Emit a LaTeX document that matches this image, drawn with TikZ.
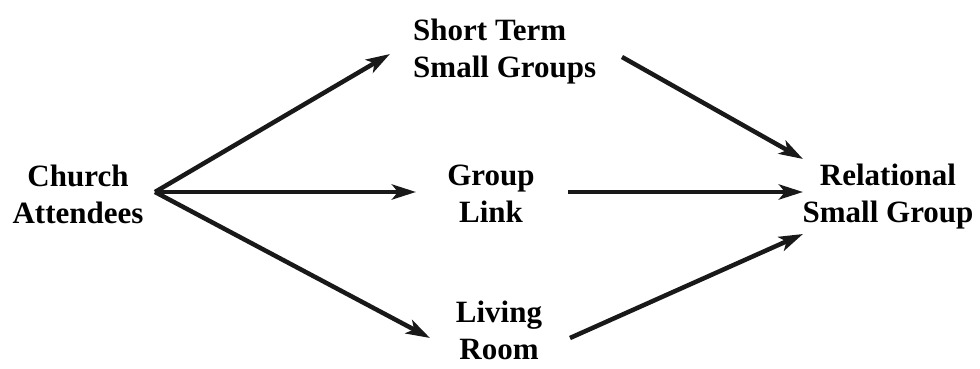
\documentclass[tikz,border=0pt]{standalone}
\usepackage{fontspec}
\setmainfont{Liberation Serif}
\usetikzlibrary{arrows.meta}
\begin{document}
\begin{tikzpicture}[x=1pt,y=-1pt,
  lbl/.style={align=center,inner sep=0pt,font=\fontsize{31}{37}\selectfont\bfseries},
  arr/.style={line width=4.5pt,-{Stealth[length=24pt,width=15pt,inset=6pt]},draw=black!90}]
\useasboundingbox[fill=white] (0,0) rectangle (980,369);
\node[lbl] (ca) at (78,194) {Church\\Attendees};
\node[lbl,align=left,anchor=west] (st) at (413,52) {Short Term\\Small Groups};
\node[lbl] (gl) at (491,194) {Group\\Link};
\node[lbl] (lr) at (499,330) {Living\\Room};
\node[lbl] (rs) at (888,197) {Relational\\Small Group};
\coordinate (src) at (155,192);
\coordinate (t1) at (390,54);
\coordinate (t2) at (416,192);
\coordinate (t3) at (430,338);
\coordinate (s1) at (622,57);
\coordinate (s2) at (568,192);
\coordinate (s3) at (570,338);
\coordinate (e1) at (803,159);
\coordinate (e2) at (803,192);
\coordinate (e3) at (803,234);
\draw[arr] (src) -- (t1);
\draw[arr] (src) -- (t2);
\draw[arr] (src) -- (t3);
\draw[arr] (s1) -- (e1);
\draw[arr] (s2) -- (e2);
\draw[arr] (s3) -- (e3);
\end{tikzpicture}
\end{document}
